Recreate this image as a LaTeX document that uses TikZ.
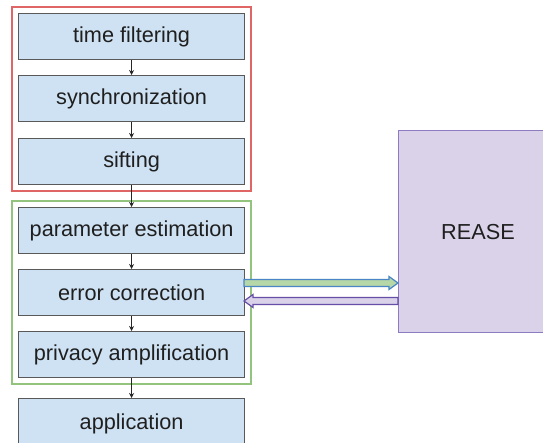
\documentclass[tikz,border=0pt]{standalone}
\usepackage{fontspec}
\setmainfont{Liberation Sans}
\usetikzlibrary{arrows.meta,fit}
\definecolor{boxfill}{HTML}{CFE2F3}
\definecolor{boxdraw}{HTML}{595959}
\definecolor{redframe}{HTML}{E06666}
\definecolor{greenframe}{HTML}{93C47D}
\definecolor{reasefill}{HTML}{D9D2E9}
\definecolor{reasedraw}{HTML}{8E7CC3}
\definecolor{garrowfill}{HTML}{B6D7A8}
\definecolor{garrowdraw}{HTML}{4A86C5}
\definecolor{parrowdraw}{HTML}{674EA7}
\definecolor{txt}{HTML}{1F1F1F}
\tikzset{
  stepbox/.style={draw=boxdraw, fill=boxfill, line width=1.2pt, minimum width=226pt, minimum height=46pt, inner sep=0pt, anchor=north west, text=txt, font=\fontsize{21.7}{25}\selectfont},
  flow/.style={draw=black!85, line width=0.9pt, -{Stealth[length=5pt,width=5pt]}},
  frame/.style={line width=2pt}
}
\begin{document}
\begin{tikzpicture}[x=1pt,y=-1pt]
\useasboundingbox (0,0) rectangle (543,443);
\clip (0,0) rectangle (543,443);
\fill[white] (0,0) rectangle (543,443);
% REASE
\node[draw=reasedraw, fill=reasefill, line width=1.2pt, minimum width=160pt, minimum height=202pt, anchor=north west, inner sep=0pt] (rease) at (398,130) {};
\node[text=txt, font=\fontsize{21.7}{25}\selectfont] (reaselbl) at (478,232) {REASE};
% steps
\node[stepbox] (tf) at (18,13) {time filtering};
\node[stepbox] (sync) at (18,75) {synchronization};
\node[stepbox] (sift) at (18,138) {sifting};
\node[stepbox] (pe) at (18,207) {parameter estimation};
\node[stepbox] (ec) at (18,269) {error correction};
\node[stepbox] (pa) at (18,331) {privacy amplification};
\node[stepbox, minimum height=50pt] (app) at (18,398) {application};
% frames
\node[fit=(tf)(sift), inner xsep=6pt, inner ysep=5.5pt] (redbox) {};
\node[fit=(pe)(pa), inner xsep=6pt, inner ysep=5.5pt] (greenbox) {};
\draw[frame, redframe] (redbox.north west) rectangle (redbox.south east);
\draw[frame, greenframe] (greenbox.north west) rectangle (greenbox.south east);
% connectors
\draw[flow] (tf.south) -- (sync.north);
\draw[flow] (sync.south) -- (sift.north);
\draw[flow] (sift.south) -- (pe.north);
\draw[flow] (pe.south) -- (ec.north);
\draw[flow] (ec.south) -- (pa.north);
\draw[flow] (pa.south) -- (app.north);
% block arrows
\draw[draw=garrowdraw, fill=garrowfill, line width=1.2pt, line join=miter]
  (244,279.5) -- (389,279.5) -- (389,276.5) -- (398,283) -- (389,289.5) -- (389,286.5) -- (244,286.5) -- cycle;
\draw[draw=parrowdraw, fill=reasefill, line width=1.2pt, line join=miter]
  (398,297.5) -- (253,297.5) -- (253,294.5) -- (244,301) -- (253,307.5) -- (253,304.5) -- (398,304.5) -- cycle;
\end{tikzpicture}
\end{document}
